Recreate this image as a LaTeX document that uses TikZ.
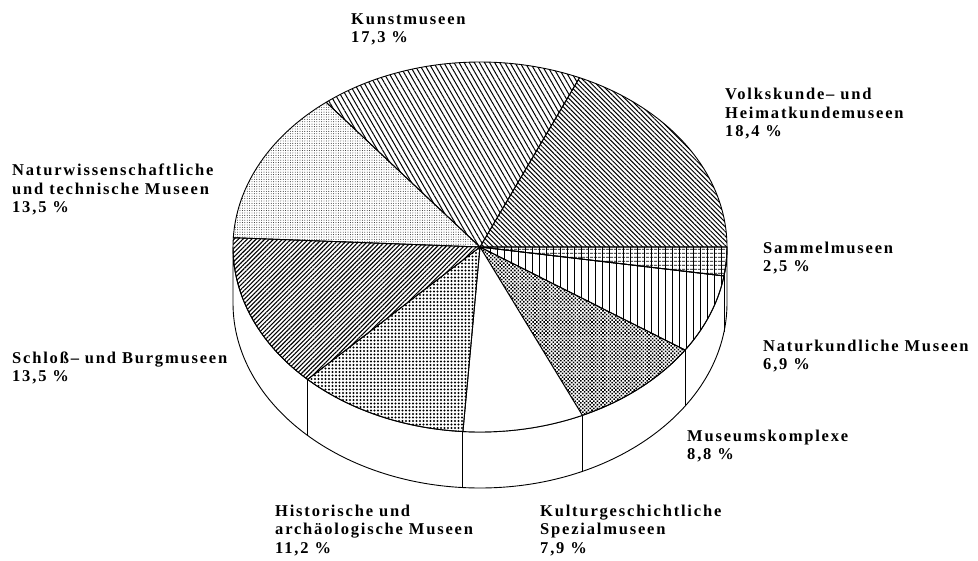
\documentclass[tikz,border=0pt]{standalone}
\usepackage{fontspec}
\newfontfamily\labfont[LetterSpace=11]{Liberation Serif}
\usetikzlibrary{patterns.meta}
\newcommand\myslice[3]{%
  \draw[outl,#3] (C) -- ++(-#1:247 and 185) arc[start angle=-#1, end angle=-#2, x radius=247, y radius=185] -- cycle;}
\begin{document}
\begin{tikzpicture}[x=1pt,y=1pt,
  outl/.style={draw=black,line width=0.9pt,line join=round},
  lab/.style={anchor=base west,align=left,inner sep=0pt,font=\labfont\bfseries\fontsize{16.5}{18.5}\selectfont}]
\useasboundingbox (0,0) rectangle (978,-561);
\coordinate (C) at (480,-247);
% side wall
\draw[outl,fill=white] (C) ++(0:247 and 185) arc[start angle=0, end angle=-180, x radius=247, y radius=185]
  -- ++(0,-56) arc[start angle=-180, end angle=0, x radius=247, y radius=185] -- cycle;
\foreach \t in {9,33.84,65.52,93.96,134.28}
  \draw[outl] (C) ++(-\t:247 and 185) -- ++(0,-56);
% top slices
\myslice{0}{9}{pattern={Lines[angle=90,distance=7pt,line width=1pt]}}
\myslice{0}{9}{pattern={Lines[angle=0,distance=4pt,line width=0.9pt]}}
\myslice{9}{33.84}{pattern={Lines[angle=90,distance=7pt,line width=1pt]}}
\myslice{33.84}{65.52}{pattern={Dots[angle=45,distance=2.6pt,radius=1.1pt]}}
\myslice{65.52}{93.96}{fill=white}
\myslice{93.96}{134.28}{pattern={Dots[distance=3.5pt,radius=1.2pt]}}
\myslice{134.28}{182.88}{pattern={Lines[angle=45,distance=3.1pt,line width=1.1pt]}}
\myslice{182.88}{231.48}{pattern={Dots[distance=2.4pt,radius=0.45pt]}}
\myslice{231.48}{293.76}{pattern={Lines[angle=-60,distance=4.4pt,line width=1pt]}}
\myslice{293.76}{360}{pattern={Lines[angle=-45,distance=3.3pt,line width=1pt]}}
% labels (anchor at baseline of last line)
\node[lab] (kunst) at (351,-43) {Kunstmuseen\\17,3 \%};
\node[lab] (volks) at (725,-137) {Volkskunde– und\\Heimatkundemuseen\\18,4 \%};
\node[lab] (sammel) at (763,-272) {Sammelmuseen\\2,5 \%};
\node[lab] (naturk) at (763,-370) {Naturkundliche Museen\\6,9 \%};
\node[lab] (komplex) at (687,-460) {Museumskomplexe\\8,8 \%};
\node[lab] (kultur) at (540,-553) {Kulturgeschichtliche\\Spezialmuseen\\7,9 \%};
\node[lab] (hist) at (275,-553) {Historische und\\archäologische Museen\\11,2 \%};
\node[lab] (schloss) at (12,-382) {Schloß– und Burgmuseen\\13,5 \%};
\node[lab] (naturw) at (12,-213) {Naturwissenschaftliche\\und technische Museen\\13,5 \%};
\end{tikzpicture}
\end{document}
